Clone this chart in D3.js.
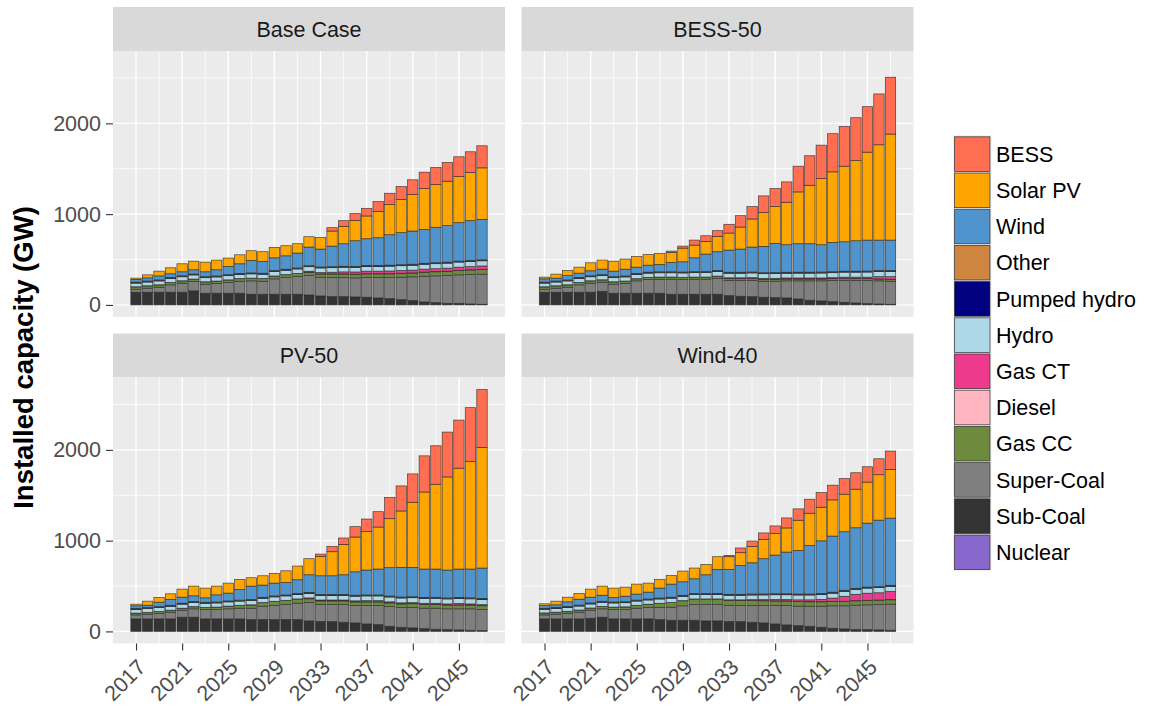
<!DOCTYPE html>
<html><head><meta charset="utf-8">
<script src="https://cdn.jsdelivr.net/npm/d3@7"></script>
<style>
body{margin:0;background:#fff}
text{font-family:"Liberation Sans",Arial,Helvetica,sans-serif}
</style>
</head><body>
<svg id="chart" width="1151" height="706"></svg>
<script>
// ---------- DATA ----------
const years = [2017,2018,2019,2020,2021,2022,2023,2024,2025,2026,2027,2028,2029,2030,2031,2032,2033,2034,2035,2036,2037,2038,2039,2040,2041,2042,2043,2044,2045,2046,2047];
const xTickYears = [2017,2021,2025,2029,2033,2037,2041,2045];
const yTicks = [0,1000,2000];
const scenarios = ["Base Case","BESS-50","PV-50","Wind-40"];
const seriesKeys = ["Nuclear","Sub-Coal","Super-Coal","Gas CC","Diesel","Gas CT","Hydro","Pumped hydro","Other","Wind","Solar PV","BESS"]; // bottom -> top
const seriesColors = ["#8968CD","#333333","#7F7F7F","#6E8B3D","#FFB6C1","#EE3A8C","#ADD8E6","#000080","#CD853F","#4F94CD","#FFA500","#FF6E50"];

// shared small series (GW)
const nuclear     = [0,0,0,0,0,0,0,0,0,0,0,0,0,0,0,0,0,0,0,0,0,0,0,0,0,0,0,0,0,0,0];
const diesel      = [2,2,2,2,2,2,2,2,2,2,2,2,2,2,2,2,2,2,2,2,2,2,2,2,2,2,2,2,2,2,2];
const pumpedHydro = [5,5,5,5,5,5,5,5,5,5,5,5,5,5,5,5,5,5,5,5,5,5,5,5,5,5,5,5,5,5,5];
const other       = [6,6,6,6,6,6,6,6,6,6,6,6,6,6,6,6,6,6,6,6,6,6,6,6,6,6,6,6,6,6,6];
const hydro       = [40,41,42,43,44,45,45,45,46,46,47,47,48,48,49,50,50,50,51,51,52,52,53,53,54,54,55,55,56,56,57];

// Base Case
const base_subCoal   = [140,140,140,140,140,155,129,129,129,129,118,118,118,118,118,110,99,92,92,88,85,77,70,59,48,33,26,18,18,11,7];
const base_superCoal = [33,44,55,81,99,103,99,107,118,132,147,143,169,184,195,214,206,210,210,210,217,225,232,246,261,283,294,306,313,324,332];
const base_gasCC     = [25,25,25,25,25,25,25,25,27,27,28,28,30,30,32,35,35,38,38,38,40,40,40,42,42,44,45,46,48,50,50];
const base_gasCT     = [0,0,0,0,0,0,0,0,0,0,0,0,0,0,0,10,15,18,22,25,28,28,30,30,30,32,32,33,35,35,38];
const base_wind      = [29,35,45,41,44,46,54,68,91,106,137,130,141,148,164,205,197,227,248,282,294,305,335,353,366,373,390,402,423,439,446];
const base_solar     = [15,33,52,66,88,95,106,107,92,99,107,107,115,111,103,114,129,166,192,225,251,291,332,364,401,450,471,490,508,531,567];
const base_bess      = [0,0,0,0,0,0,0,0,0,0,0,0,0,0,0,0,0,37,62,74,84,107,125,144,163,180,188,206,218,228,243];

// BESS-50
const bess50_subCoal   = [140,140,140,140,140,150,129,129,129,129,129,118,118,118,118,118,103,96,92,85,81,77,66,52,44,37,29,22,15,11,7];
const bess50_superCoal = [33,44,55,81,99,100,99,107,136,151,154,165,162,165,165,176,166,173,177,176,180,188,199,213,221,232,240,247,254,254,254];
const bess50_gasCC     = [25,25,25,25,25,25,25,25,22,22,22,22,22,22,22,22,20,20,20,20,20,20,20,20,20,20,20,20,20,20,20];
const bess50_gasCT     = [0,0,0,0,0,0,0,0,0,0,0,0,0,0,0,0,8,8,10,10,10,10,10,10,10,10,15,15,15,25,28];
const bess50_wind      = [36,32,49,48,55,61,61,75,70,77,81,103,112,153,193,207,244,255,274,290,322,303,313,313,301,323,324,335,341,335,335];
const bess50_solar     = [19,44,55,66,88,100,110,111,118,118,121,110,151,140,140,169,188,243,310,372,405,468,571,644,729,777,832,884,969,1050,1168];
const bess50_bess      = [0,0,0,0,0,0,0,0,0,0,0,15,22,55,62,63,96,125,136,184,199,224,283,325,368,420,439,471,501,560,626];

// PV-50
const pv50_subCoal   = [138,138,138,138,157,157,138,138,138,138,131,131,131,131,131,116,109,109,101,94,83,75,57,46,39,31,24,20,17,13,9];
const pv50_superCoal = [44,52,62,74,77,92,103,103,111,118,125,147,154,165,180,203,187,187,195,191,202,210,217,217,224,225,232,229,232,236,232];
const pv50_gasCC     = [18,18,18,20,20,22,22,25,28,30,35,38,45,45,45,40,40,40,40,40,40,40,40,40,42,42,42,42,42,42,42];
const pv50_gasCT     = [0,0,0,0,0,0,0,0,0,0,0,0,0,0,0,8,8,8,8,10,12,12,10,10,10,10,10,10,15,10,10];
const pv50_wind      = [29,27,49,64,67,63,49,79,86,117,148,134,141,137,151,194,206,206,216,258,274,285,312,326,323,312,311,307,312,317,335];
const pv50_solar     = [18,44,52,62,88,107,107,96,110,111,92,103,107,129,151,177,213,265,335,383,423,463,540,622,718,849,934,1026,1111,1185,1329];
const pv50_bess      = [0,0,0,0,0,0,0,0,0,0,0,0,0,0,0,0,26,59,70,114,139,169,232,276,312,398,424,494,530,593,637];

// Wind-40
const wind40_subCoal   = [138,138,138,138,145,157,138,138,138,138,131,123,123,123,116,116,109,109,101,94,83,72,64,57,46,35,28,20,20,17,13];
const wind40_superCoal = [44,52,62,74,89,92,103,103,118,125,132,144,159,173,180,180,176,176,184,191,202,213,214,221,232,247,254,269,273,279,287];
const wind40_gasCC     = [20,20,20,22,22,25,25,28,30,35,45,50,55,60,60,60,58,55,55,52,50,50,50,48,48,48,48,48,48,48,48];
const wind40_gasCT     = [0,0,0,0,0,0,0,0,0,0,0,0,0,0,0,0,3,6,8,12,15,15,18,20,25,35,55,70,78,80,90];
const wind40_wind      = [30,29,51,65,64,67,50,61,66,76,109,144,149,163,206,264,274,318,344,388,426,459,480,535,580,618,645,667,705,733,740];
const wind40_solar     = [19,40,51,63,89,100,103,100,110,99,96,96,118,118,114,140,140,140,181,213,236,266,333,355,370,399,414,425,452,500,537];
const wind40_bess      = [0,0,0,0,0,0,0,0,0,0,0,0,0,0,0,0,15,52,59,71,85,110,125,154,162,162,173,181,169,176,202];

// ---------- BUILD ----------
function buildRows(sub, sup, gcc, gct, wnd, sol, bes) {
  return years.map((yr, i) => ({
    year: yr,
    "Nuclear": nuclear[i], "Sub-Coal": sub[i], "Super-Coal": sup[i], "Gas CC": gcc[i],
    "Diesel": diesel[i], "Gas CT": gct[i], "Hydro": hydro[i], "Pumped hydro": pumpedHydro[i],
    "Other": other[i], "Wind": wnd[i], "Solar PV": sol[i], "BESS": bes[i]
  }));
}
const scenarioRows = [
  buildRows(base_subCoal, base_superCoal, base_gasCC, base_gasCT, base_wind, base_solar, base_bess),
  buildRows(bess50_subCoal, bess50_superCoal, bess50_gasCC, bess50_gasCT, bess50_wind, bess50_solar, bess50_bess),
  buildRows(pv50_subCoal, pv50_superCoal, pv50_gasCC, pv50_gasCT, pv50_wind, pv50_solar, pv50_bess),
  buildRows(wind40_subCoal, wind40_superCoal, wind40_gasCC, wind40_gasCT, wind40_wind, wind40_solar, wind40_bess)
];

const color = d3.scaleOrdinal().domain(seriesKeys).range(seriesColors);
const stack = d3.stack().keys(seriesKeys).order(d3.stackOrderNone).offset(d3.stackOffsetNone);

const svg = d3.select("#chart");
svg.append("rect").attr("width",1151).attr("height",706).attr("fill","#fff");

const panelW = 392, panelH = 266, stripH = 44;
const panelPos = [
  {x:113, y:51}, {x:521.5, y:51},
  {x:113, y:377.5}, {x:521.5, y:377.5}
];

// global max for y domain (fixed scales)
const maxTotal = d3.max(scenarioRows, rows => d3.max(rows, r => d3.sum(seriesKeys, k => r[k])));
const yPad = maxTotal * 0.05;
const y = d3.scaleLinear().domain([-yPad, maxTotal + yPad]).range([panelH, 0]);
const barW = 0.9;
const xLo = years[0] - barW/2, xHi = years[years.length-1] + barW/2;
const xPad = (xHi - xLo) * 0.05;
const x = d3.scaleLinear().domain([xLo - xPad, xHi + xPad]).range([0, panelW]);
const bw = x(years[0] + barW/2) - x(years[0] - barW/2);

const xMinor = [2019,2023,2027,2031,2035,2039,2043,2047];
const yMinor = [500,1500,2500];

scenarios.forEach((name, si) => {
  const p = panelPos[si];
  // strip
  svg.append("rect").attr("x", p.x).attr("y", p.y - stripH).attr("width", panelW).attr("height", stripH).attr("fill", "#D9D9D9");
  svg.append("text").attr("x", p.x + panelW/2).attr("y", p.y - stripH/2).attr("dy","0.36em")
    .attr("text-anchor","middle").attr("font-size","21.5px").attr("fill","#1A1A1A").text(name);

  const g = svg.append("g").attr("transform", `translate(${p.x},${p.y})`);
  g.append("rect").attr("width", panelW).attr("height", panelH).attr("fill", "#EBEBEB");
  // minor grid
  g.selectAll(".ymin").data(yMinor).join("line").attr("x1",0).attr("x2",panelW)
    .attr("y1", d=>y(d)).attr("y2", d=>y(d)).attr("stroke","#fff").attr("stroke-width",0.8);
  g.selectAll(".xmin").data(xMinor).join("line").attr("y1",0).attr("y2",panelH)
    .attr("x1", d=>x(d)).attr("x2", d=>x(d)).attr("stroke","#fff").attr("stroke-width",0.8);
  // major grid
  g.selectAll(".ymaj").data(yTicks).join("line").attr("x1",0).attr("x2",panelW)
    .attr("y1", d=>y(d)).attr("y2", d=>y(d)).attr("stroke","#fff").attr("stroke-width",1.4);
  g.selectAll(".xmaj").data(xTickYears).join("line").attr("y1",0).attr("y2",panelH)
    .attr("x1", d=>x(d)).attr("x2", d=>x(d)).attr("stroke","#fff").attr("stroke-width",1.4);

  const stacked = stack(scenarioRows[si]);
  g.selectAll("g.layer").data(stacked).join("g").attr("class","layer")
    .attr("fill", d => color(d.key))
    .selectAll("rect").data(d => d.filter(s => s[1] - s[0] > 0)).join("rect")
      .attr("x", d => x(d.data.year) - bw/2)
      .attr("width", bw)
      .attr("y", d => y(d[1]))
      .attr("height", d => y(d[0]) - y(d[1]))
      .attr("stroke", "#2a2a2a").attr("stroke-width", 0.7).attr("stroke-opacity", 0.85);

  // y axis for left panels
  if (si % 2 === 0) {
    const ya = g.append("g").call(d3.axisLeft(y).tickValues(yTicks).tickSize(7).tickPadding(5).tickFormat(d3.format("d")));
    ya.select(".domain").remove();
    ya.selectAll("line").attr("stroke","#333").attr("stroke-width",1.1);
    ya.selectAll("text").attr("font-size","21.5px").attr("fill","#4D4D4D").attr("font-family",null);
  }
  // x axis for bottom panels
  if (si >= 2) {
    const xa = g.append("g").attr("transform", `translate(0,${panelH})`)
      .call(d3.axisBottom(x).tickValues(xTickYears).tickSize(7).tickFormat(d3.format("d")));
    xa.select(".domain").remove();
    xa.selectAll("line").attr("stroke","#333").attr("stroke-width",1.1);
    xa.selectAll("text").attr("font-size","21.5px").attr("fill","#4D4D4D").attr("font-family",null)
      .attr("x",0).attr("y",0).attr("dy",0)
      .attr("text-anchor","end")
      .attr("transform","translate(10.5,25) rotate(-45)");
  }
});

// y axis title
svg.append("text").attr("transform","translate(33,357.5) rotate(-90)")
  .attr("text-anchor","middle").attr("font-size","27.5px").attr("font-weight","bold")
  .attr("fill","#000").text("Installed capacity (GW)");

// legend (top of stack first)
const legendKeys = seriesKeys.slice().reverse();
const lgX = 954, lgY = 136, rowH = 36.2;
const lg = svg.append("g");
lg.append("rect").attr("x", lgX-1).attr("y", lgY-1).attr("width", 38.5).attr("height", rowH*legendKeys.length+2).attr("fill","#F2F2F2");
legendKeys.forEach((k, i) => {
  lg.append("rect").attr("x", lgX+0.5).attr("y", lgY + i*rowH + 0.8).attr("width", 35.5).attr("height", rowH-1.6)
    .attr("fill", color(k)).attr("stroke","#2a2a2a").attr("stroke-width",0.8).attr("stroke-opacity",0.85);
  lg.append("text").attr("x", 996).attr("y", lgY + i*rowH + rowH/2).attr("dy","0.36em")
    .attr("font-size","21.5px").attr("fill","#000").text(k);
});
</script>
</body></html>
